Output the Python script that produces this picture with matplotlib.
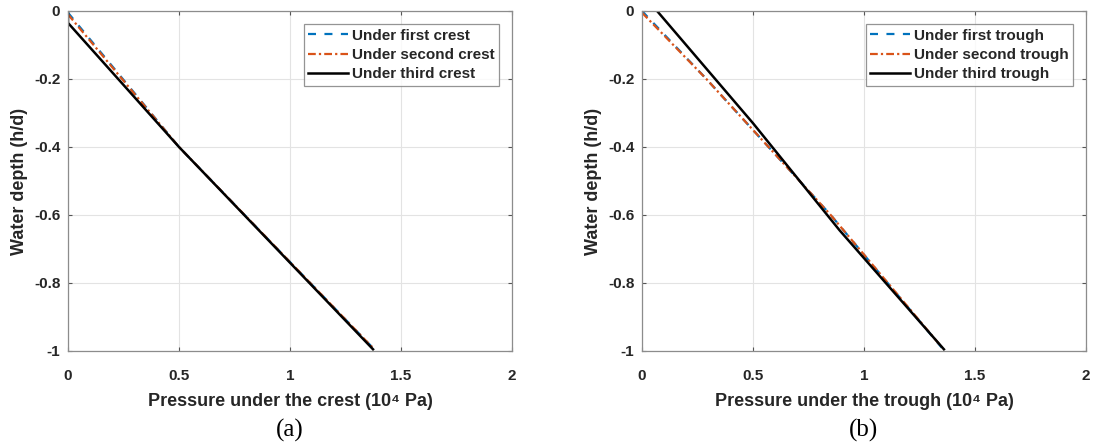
import matplotlib
matplotlib.use("Agg")
import matplotlib.pyplot as plt

plt.rcParams['font.family'] = ['Liberation Sans', 'DejaVu Sans']

# ---- data ----
# panel (a): under crests  (pressure in 1e4 Pa, depth h/d)
crest1_p = [0.0, 0.50, 1.372]
crest1_d = [-0.005, -0.40, -0.99]
crest2_p = [0.0, 0.50, 1.372]
crest2_d = [-0.01, -0.40, -0.99]
crest3_p = [0.0, 0.0, 0.50, 1.374]
crest3_d = [0.0, -0.035, -0.40, -0.995]

# panel (b): under troughs
trough1_p = [0.0, 0.29, 0.50, 0.85, 1.35]
trough1_d = [0.0, -0.20, -0.35, -0.60, -0.99]
trough2_p = [0.0, 0.29, 0.50, 0.85, 1.352]
trough2_d = [-0.005, -0.20, -0.35, -0.60, -0.99]
trough3_p = [0.068, 0.50, 0.89, 1.36]
trough3_d = [0.0, -0.33, -0.645, -0.995]

xticks = [0, 0.5, 1, 1.5, 2]
xtick_labels = ['0', '0.5', '1', '1.5', '2']
yticks = [-1, -0.8, -0.6, -0.4, -0.2, 0]
ytick_labels = ['-1', '-0.8', '-0.6', '-0.4', '-0.2', '0']

crest_labels = ['Under first crest', 'Under second crest', 'Under third crest']
trough_labels = ['Under first trough', 'Under second trough', 'Under third trough']

BLUE = '#0072BD'
ORANGE = '#D95319'
TXT = '#262626'

W, H = 1093, 446
fig = plt.figure(figsize=(W / 100, H / 100), dpi=100)

def make_axes(x0, x1):
    y0, y1 = 11, 351
    return fig.add_axes([x0 / W, (H - y1) / H, (x1 - x0) / W, (y1 - y0) / H])

ax1 = make_axes(68, 512)
ax2 = make_axes(642, 1086)

panels = [
    (ax1, [(crest1_p, crest1_d), (crest2_p, crest2_d), (crest3_p, crest3_d)], crest_labels,
     'Pressure under the crest (10\u2074 Pa)', '(a)'),
    (ax2, [(trough1_p, trough1_d), (trough2_p, trough2_d), (trough3_p, trough3_d)], trough_labels,
     'Pressure under the trough (10\u2074 Pa)', '(b)'),
]

for ax, series, labels, xlabel, tag in panels:
    (p1, d1), (p2, d2), (p3, d3) = series
    ax.plot(p1, d1, color=BLUE, lw=1.6, ls=(0, (3.6, 3.8)), label=labels[0])
    ax.plot(p2, d2, color=ORANGE, lw=1.6, ls=(0, (3.5, 1.4, 1.0, 1.4)), label=labels[1])
    ax.plot(p3, d3, color='black', lw=1.8, ls='-', label=labels[2])
    ax.set_xlim(0, 2)
    ax.set_ylim(-1, 0)
    ax.set_xticks(xticks)
    ax.set_xticklabels(xtick_labels, fontsize=11, fontweight='bold', color=TXT)
    ax.set_yticks(yticks)
    ax.set_yticklabels(ytick_labels, fontsize=11, fontweight='bold', color=TXT)
    ax.tick_params(direction='in', length=3, width=0.8, color='#555555',
                   top=True, right=True)
    ax.tick_params(axis='x', pad=13)
    ax.tick_params(axis='y', pad=5.5)
    ax.grid(True, color='#e3e3e3', lw=0.8)
    ax.set_axisbelow(True)
    for s in ax.spines.values():
        s.set_color('#8c8c8c')
        s.set_linewidth(0.9)
    ax.set_xlabel(xlabel, fontsize=13, fontweight='bold', color=TXT, labelpad=7)
    ax.set_ylabel('Water depth (h/d)', fontsize=13, fontweight='bold', color=TXT, labelpad=4)
    leg = ax.legend(loc='upper right', bbox_to_anchor=(1 - 13 / 444, 1 - 13 / 340),
                    prop={'weight': 'bold', 'size': 11}, frameon=True, fancybox=False,
                    handlelength=2.6, handletextpad=0.25, borderpad=0.3, labelspacing=0.35,
                    borderaxespad=0)
    leg.get_frame().set_edgecolor('#7a7a7a')
    leg.get_frame().set_linewidth(0.9)
    for t in leg.get_texts():
        t.set_color(TXT)
    ax.text(0.5, -0.235, tag, transform=ax.transAxes, ha='center', va='center',
            fontsize=18, family='Liberation Serif')

fig.savefig('out.png', dpi=100)
